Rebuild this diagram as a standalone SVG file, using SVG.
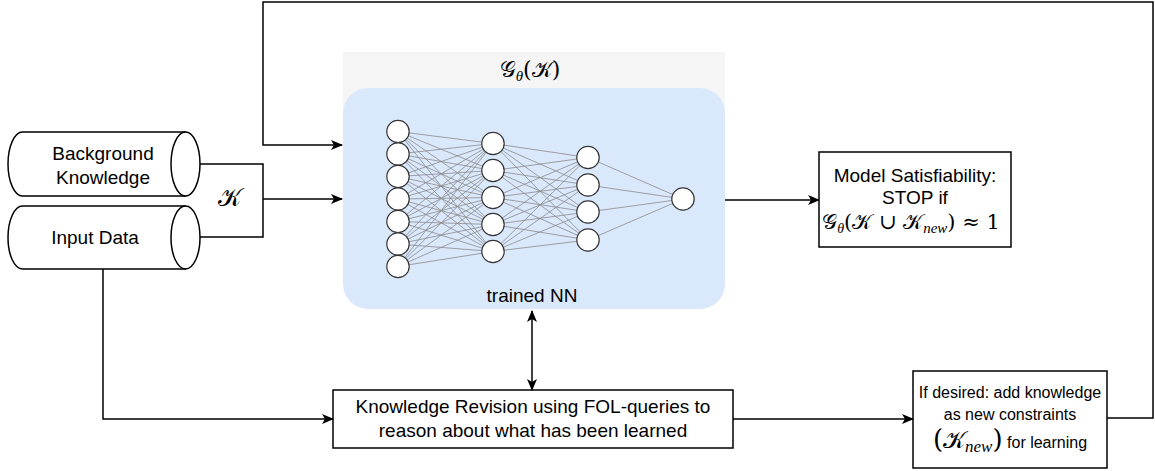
<svg xmlns="http://www.w3.org/2000/svg" width="1155" height="471" viewBox="0 0 1155 471">
<style>
.ln{fill:none;stroke:#000;stroke-width:1.5}
.bx{fill:#fff;stroke:#000;stroke-width:1.5}
.t{font-family:"Liberation Sans",Arial,sans-serif;font-size:19px;fill:#000;text-anchor:middle}
.t16{font-family:"Liberation Sans",Arial,sans-serif;font-size:16px;fill:#000;text-anchor:middle}
.m{font-family:"DejaVu Serif","Liberation Serif",serif;fill:#000}
.mi{font-family:"Liberation Serif",serif;font-style:italic;fill:#000}
.nr{fill:#fff;stroke:#333;stroke-width:1.2}
.ed{stroke:#8a8a8a;stroke-width:0.8}
</style>
<defs>
<marker id="ar" viewBox="0 0 12 10" refX="11" refY="5" markerWidth="12" markerHeight="10" markerUnits="userSpaceOnUse" orient="auto-start-reverse">
<path d="M0,0 L12,5 L0,10 L3,5 Z" fill="#000"/>
</marker>
</defs>

<g id="nn-container">
<rect x="343" y="52" width="382" height="100" fill="#f5f5f5"/>
<rect x="343" y="88" width="382" height="221" rx="25" ry="25" fill="#dae8fc"/>
<text class="m" x="530" y="77" text-anchor="middle" font-size="22">𝒢<tspan class="mi" font-size="15" dy="4">θ</tspan><tspan dy="-4">(𝒦)</tspan></text>
<text class="t" x="532" y="302">trained NN</text>
</g>

<g id="nn-edges">
<path class="ed" d="M398,131.5L493,143.5M398,131.5L493,170.5M398,131.5L493,197.5M398,131.5L493,224.5M398,131.5L493,251.5
M398,154L493,143.5M398,154L493,170.5M398,154L493,197.5M398,154L493,224.5M398,154L493,251.5
M398,176.5L493,143.5M398,176.5L493,170.5M398,176.5L493,197.5M398,176.5L493,224.5M398,176.5L493,251.5
M398,199L493,143.5M398,199L493,170.5M398,199L493,197.5M398,199L493,224.5M398,199L493,251.5
M398,221.5L493,143.5M398,221.5L493,170.5M398,221.5L493,197.5M398,221.5L493,224.5M398,221.5L493,251.5
M398,244L493,143.5M398,244L493,170.5M398,244L493,197.5M398,244L493,224.5M398,244L493,251.5
M398,266.5L493,143.5M398,266.5L493,170.5M398,266.5L493,197.5M398,266.5L493,224.5M398,266.5L493,251.5
M493,143.5L588,157.5M493,143.5L588,185M493,143.5L588,212M493,143.5L588,240
M493,170.5L588,157.5M493,170.5L588,185M493,170.5L588,212M493,170.5L588,240
M493,197.5L588,157.5M493,197.5L588,185M493,197.5L588,212M493,197.5L588,240
M493,224.5L588,157.5M493,224.5L588,185M493,224.5L588,212M493,224.5L588,240
M493,251.5L588,157.5M493,251.5L588,185M493,251.5L588,212M493,251.5L588,240
M588,157.5L683,199M588,185L683,199M588,212L683,199M588,240L683,199"/>
</g>
<g id="nn-neurons">
<circle class="nr" cx="398" cy="131.5" r="11.2"/>
<circle class="nr" cx="398" cy="154" r="11.2"/>
<circle class="nr" cx="398" cy="176.5" r="11.2"/>
<circle class="nr" cx="398" cy="199" r="11.2"/>
<circle class="nr" cx="398" cy="221.5" r="11.2"/>
<circle class="nr" cx="398" cy="244" r="11.2"/>
<circle class="nr" cx="398" cy="266.5" r="11.2"/>
<circle class="nr" cx="493" cy="143.5" r="11.2"/>
<circle class="nr" cx="493" cy="170.5" r="11.2"/>
<circle class="nr" cx="493" cy="197.5" r="11.2"/>
<circle class="nr" cx="493" cy="224.5" r="11.2"/>
<circle class="nr" cx="493" cy="251.5" r="11.2"/>
<circle class="nr" cx="588" cy="157.5" r="11.2"/>
<circle class="nr" cx="588" cy="185" r="11.2"/>
<circle class="nr" cx="588" cy="212" r="11.2"/>
<circle class="nr" cx="588" cy="240" r="11.2"/>
<circle class="nr" cx="683" cy="199" r="11.2"/>
</g>

<g id="background-knowledge">
<path class="bx" d="M22.5,132 L185.5,132 A14.5,32 0 0 1 185.5,196 L22.5,196 A14.5,32 0 0 1 22.5,132 Z"/>
<path class="ln" d="M185.5,132 A14.5,32 0 0 0 185.5,196"/>
<text class="t" x="103" y="160">Background</text>
<text class="t" x="103" y="184">Knowledge</text>
</g>

<g id="input-data">
<path class="bx" d="M22.5,206 L185.5,206 A14.5,31.5 0 0 1 185.5,269 L22.5,269 A14.5,31.5 0 0 1 22.5,206 Z"/>
<path class="ln" d="M185.5,206 A14.5,31.5 0 0 0 185.5,269"/>
<text class="t" x="95" y="244">Input Data</text>
</g>

<g id="k-label">
<text class="m" x="229" y="206" text-anchor="middle" font-size="25">𝒦</text>
</g>

<g id="model-satisfiability">
<rect class="bx" x="819" y="152" width="192" height="95"/>
<text class="t" x="915" y="182">Model Satisfiability:</text>
<text class="t" x="915" y="204">STOP if</text>
<text class="m" x="911" y="229" text-anchor="middle" font-size="21">𝒢<tspan class="mi" font-size="14" dy="4">θ</tspan><tspan dy="-4">(𝒦 ∪ 𝒦</tspan><tspan class="mi" font-size="15" dy="4">new</tspan><tspan dy="-4">) ≈ 1</tspan></text>
</g>

<g id="knowledge-revision">
<rect class="bx" x="333" y="390" width="400" height="58"/>
<text class="t" x="533" y="413">Knowledge Revision using FOL-queries to</text>
<text class="t" x="533" y="437">reason about what has been learned</text>
</g>

<g id="add-knowledge">
<rect class="bx" x="913" y="371" width="194" height="97"/>
<text class="t16" x="1010" y="398">If desired: add knowledge</text>
<text class="t16" x="1010" y="420">as new constraints</text>
<text class="m" x="1010" y="448" text-anchor="middle" font-size="26">(<tspan font-size="24">𝒦</tspan><tspan class="mi" font-size="17" dy="4">new</tspan><tspan dy="-4">)</tspan><tspan font-family="Liberation Sans, Arial, sans-serif" font-size="16"> for learning</tspan></text>
</g>

<g id="connectors">
<polyline class="ln" points="200,164 263,164 263,237 200,237"/>
<line class="ln" x1="263" y1="199" x2="342" y2="199" marker-end="url(#ar)"/>
<polyline class="ln" points="1107,418 1153,418 1153,2 263,2 263,145 342,145" marker-end="url(#ar)"/>
<line class="ln" x1="725" y1="200" x2="819" y2="200" marker-end="url(#ar)"/>
<polyline class="ln" points="103,269 103,419 333,419" marker-end="url(#ar)"/>
<line class="ln" x1="733" y1="419" x2="913" y2="419" marker-end="url(#ar)"/>
<line class="ln" x1="532" y1="311" x2="532" y2="390" marker-start="url(#ar)" marker-end="url(#ar)"/>
</g>
</svg>
